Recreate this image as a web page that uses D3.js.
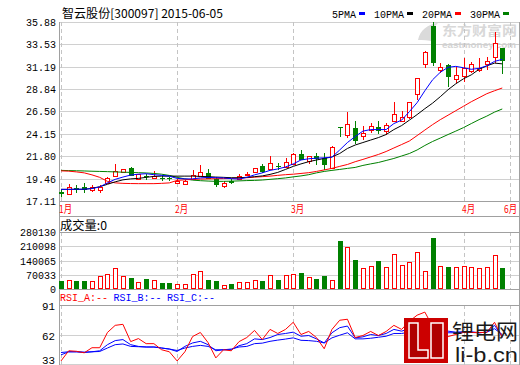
<!DOCTYPE html>
<html><head><meta charset="utf-8">
<script src="https://cdn.jsdelivr.net/npm/d3@7"></script>
<style>html,body{margin:0;padding:0;background:#fff;}svg{display:block;}</style>
</head><body><svg id="c" width="520" height="365"></svg>
<script>
const title = "智云股份[300097] 2015-06-05";
const openP  = [18.05,17.85,18.48,18.62,18.30,18.22,18.95,19.70,20.20,20.55,19.45,19.75,19.50,19.55,19.52,18.95,18.90,19.40,19.75,20.07,19.38,18.68,19.18,19.38,19.85,20.10,20.77,20.42,20.82,20.70,20.94,22.09,21.30,21.88,21.64,20.54,24.90,24.00,24.78,23.90,24.60,24.88,24.45,25.47,25.47,25.93,28.36,31.46,35.50,30.87,31.39,29.90,30.24,30.79,30.87,31.46,32.19,33.13];
const highP  = [18.35,18.85,18.80,18.95,18.75,18.75,19.60,20.95,20.50,20.70,19.95,19.95,20.30,19.70,19.65,19.40,19.35,20.32,20.84,20.42,19.66,19.20,19.40,19.90,20.10,20.60,20.95,21.81,21.05,21.57,22.15,22.44,21.85,22.15,22.15,22.85,24.92,26.45,25.47,24.95,25.30,25.45,25.30,27.49,26.58,27.50,30.05,32.85,35.88,31.63,31.50,31.21,32.09,31.70,32.09,32.26,34.87,33.20];
const lowP   = [17.65,17.70,18.10,18.10,18.10,17.95,18.85,19.60,20.10,19.80,19.40,19.45,19.45,19.30,19.35,18.85,18.80,19.35,19.70,19.50,18.68,18.51,18.95,19.30,19.75,20.05,20.20,20.35,20.50,20.60,20.90,21.50,21.02,21.00,20.42,20.50,23.90,23.75,23.21,23.55,24.20,24.20,24.05,25.35,25.40,25.75,27.66,31.04,31.32,30.52,29.12,29.48,29.64,30.52,30.60,30.87,31.57,30.52];
const closeP = [17.98,18.60,18.42,18.33,18.62,18.55,19.50,20.30,20.42,19.85,19.90,19.70,19.75,19.48,19.48,19.25,19.25,19.85,20.20,19.55,18.85,19.03,19.14,19.72,19.95,20.55,20.24,21.05,20.77,21.22,22.09,21.54,21.81,21.66,20.94,22.79,24.86,25.23,23.55,24.26,25.00,24.60,25.12,26.24,25.93,27.45,30.00,32.78,31.65,31.11,30.17,30.35,31.04,31.46,31.04,31.81,33.65,31.91];
const volume = [37000,45000,37000,37000,41000,65000,75000,102000,65000,55000,36000,50000,45000,28000,31000,26000,26000,73000,88000,45000,37000,19000,26000,36000,36000,44000,41000,68000,45000,68000,73000,79000,58000,50000,63000,44000,235000,204000,143000,102000,112000,138000,107000,172000,117000,131000,180000,88000,250000,112000,107000,107000,112000,107000,102000,107000,167000,104000];
const ma5  = [18.33,18.33,18.35,18.35,18.41,18.59,19.01,19.38,19.62,19.83,19.92,19.97,19.87,19.80,19.71,19.48,19.43,19.43,19.53,19.59,19.55,19.53,19.45,19.41,19.59,19.85,20.06,20.32,20.47,20.68,21.00,21.41,21.54,21.60,21.64,21.71,22.46,23.24,23.87,24.44,24.60,24.60,24.60,25.23,25.59,26.48,27.42,28.67,29.82,30.61,31.13,31.23,31.08,30.92,31.02,31.28,31.75,31.96];
const ma10 = [18.33,18.33,18.33,18.33,18.44,18.61,18.86,19.12,19.33,19.43,19.48,19.59,19.69,19.72,19.72,19.72,19.72,19.72,19.69,19.66,19.62,19.59,19.55,19.55,19.59,19.66,19.74,19.90,20.11,20.42,20.74,21.00,21.23,21.41,21.57,21.73,22.09,22.62,22.98,23.24,23.50,23.76,24.08,24.60,25.02,25.59,26.17,26.79,27.37,28.05,28.78,29.40,29.93,30.34,30.92,31.28,31.57,31.49];
const ma20 = [20.27,20.24,20.16,20.06,19.85,19.59,19.17,19.01,18.96,18.94,18.93,18.93,18.93,18.96,19.01,19.27,19.33,19.38,19.41,19.43,19.45,19.46,19.48,19.51,19.55,19.61,19.66,19.72,19.80,19.87,19.92,20.00,20.08,20.21,20.37,20.53,20.74,20.94,21.23,21.47,21.73,21.99,22.30,22.67,23.03,23.40,23.97,24.55,25.12,25.64,26.11,26.58,27.05,27.52,27.94,28.36,28.67,28.96];
const ma30 = [20.32,20.30,20.28,20.26,20.23,20.21,20.19,20.16,20.13,20.11,20.08,20.05,20.00,19.92,19.79,19.59,19.43,19.30,19.24,19.20,19.17,19.17,19.19,19.22,19.25,19.27,19.31,19.38,19.45,19.53,19.64,19.74,19.87,20.06,20.21,20.32,20.42,20.53,20.63,20.84,21.00,21.15,21.36,21.57,21.83,22.09,22.46,22.93,23.35,23.71,24.08,24.44,24.81,25.23,25.64,26.01,26.43,26.76];
const rsiA = [36,46,45.5,44,49,49,64,71,72,55,58,53,53,47,45,36,45,60,64,54,39,47,46,55,59,66,57,67,63,67,74,62,65,59,48,67,76,77,59,61,65,61,65,71,67,75,81,84,70,67,60,62,64,64,64,64,74,59];
const rsiB = [42,45,45,44.7,45,46,52,56,57,52,50.3,49.7,49.7,48.7,47.7,45.3,50.3,53.7,55.3,52,46,47,47,51,53,57.7,57,59,62,63,64.3,60.3,61,57.7,53.7,63.7,68.7,70.3,58.7,59.7,62,61,63,67,65.3,67.7,70.3,73.7,68.7,67,65.3,64.3,64.7,64.7,63.7,64.3,71,60.3];
const rsiC = [44.3,45,45,44.3,45,45.3,48.7,52,52.7,50.3,50,49.7,49.7,48.7,47.7,46.3,48.7,50.3,51.3,50.3,47,47,47.7,49.7,50.3,53,53.5,55.3,56.5,57.5,58.7,56.3,56,55.3,53.7,58.7,61.3,63.7,57.7,57.7,58.3,59.3,60.3,63,63,64.3,66,67.7,65.3,64.7,63.7,63.7,64.3,64,63.7,64.3,67.7,62];
const priceTicks = [35.88,33.53,31.19,28.84,26.50,24.15,21.80,19.46,17.11];
const volTicks = [0,70033,140065,210098,280130];
const rsiTicks = [33,62,91];
const monthLabels = ["1月","2月","3月","4月","6月"];
const monthIndex = [0,15,30,52,58];
const legendLabels = ["5PMA","10PMA","20PMA","30PMA"];
const legendColors = ["#0000ff","#000000","#ff0000","#008000"];
const volHeader = "成交量:0";
const rsiHeaders = ["RSI_A:--","RSI_B:--","RSI_C:--"];
const rsiColors = ["#ff0000","#0000ff","#0000ff"];

const RED="#ff0000", GREEN="#008000", GRID="#d0d0d0", FRAME="#a0a0a0", VGRID="#c4c4c4";
const MONO="'Liberation Mono','DejaVu Sans Mono',monospace";
const CJK="'Noto Sans CJK SC','Noto Sans',sans-serif";
const svg = d3.select("#c");
const L=59, R=519;

const x = d3.scaleLinear().domain([0,58]).range([61,510]);
const yP = d3.scaleLinear().domain([17.11,35.88]).range([201,22]);
const yV = d3.scaleLinear().domain([0,280130]).range([289,232]);
const yR = d3.scaleLinear().domain([33,91]).range([364,305]);
const px = v => Math.round(v)+0.5;

function txt(g, s, xx, yy, opt){
  const t = g.append("text").attr("x",xx).attr("y",yy).text(s)
    .attr("font-family",opt.font||MONO).attr("font-size",opt.size||11)
    .attr("fill",opt.fill||"#000");
  if(opt.anchor) t.attr("text-anchor",opt.anchor);
  if(opt.len) t.attr("textLength",opt.len).attr("lengthAdjust","spacingAndGlyphs");
  if(opt.weight) t.attr("font-weight",opt.weight);
  return t;
}

// watermark
const wm = svg.append("g");
wm.append("path").attr("d","M418,40 C420,30 428,24 438,23 C432,28 430,34 434,42 C428,40 423,40 418,40 Z").attr("fill","#dadada");
txt(wm,"东方财富网",442,35,{font:CJK,size:13,fill:"#d8d8d8",weight:"bold",len:75});
txt(wm,"eastmoney.com",442,48,{font:"'Liberation Sans',Arial,sans-serif",size:9,fill:"#d4d4d4",weight:"bold",len:74});

// gridlines
const grid = svg.append("g");
priceTicks.forEach(t=>grid.append("line").attr("x1",L).attr("x2",R).attr("y1",px(yP(t))).attr("y2",px(yP(t))).attr("stroke",GRID));
volTicks.forEach(t=>grid.append("line").attr("x1",L).attr("x2",R).attr("y1",px(yV(t))).attr("y2",px(yV(t))).attr("stroke",GRID));
rsiTicks.forEach(t=>grid.append("line").attr("x1",L).attr("x2",R).attr("y1",px(yR(t))).attr("y2",px(yR(t))).attr("stroke",GRID));
monthIndex.forEach(i=>{
  const xx = px(x(i));
  [[22,201],[232,289],[305,365]].forEach(([a,b])=>grid.append("line").attr("x1",xx).attr("x2",xx).attr("y1",a).attr("y2",b)
    .attr("stroke",VGRID).attr("stroke-dasharray","4,3"));
});

// frame
const fr = svg.append("g").attr("stroke",FRAME).attr("shape-rendering","crispEdges");
fr.append("line").attr("x1",L+0.5).attr("x2",L+0.5).attr("y1",22).attr("y2",365);
fr.append("line").attr("x1",R+0.5).attr("x2",R+0.5).attr("y1",22).attr("y2",365);
[201,216,232,289,305].forEach(yy=>fr.append("line").attr("x1",L).attr("x2",R+1).attr("y1",yy+0.5).attr("y2",yy+0.5));

// axis labels
const ax = svg.append("g");
priceTicks.forEach(t=>{ const s=t.toFixed(2); txt(ax,s,56,Math.round(yP(t))+4,{anchor:"end",len:s.length*6}); });
volTicks.forEach(t=>{ const s=String(t); txt(ax,s,56,Math.round(yV(t))+4,{anchor:"end",len:s.length*6}); });
rsiTicks.forEach(t=>{ const s=String(t); const yy = t===33? 363.5: Math.round(yR(t))+5; txt(ax,s,55,yy,{anchor:"end",len:s.length*6.5}); });
monthLabels.forEach((m,k)=>txt(ax,m,Math.min(Math.round(x(monthIndex[k]))-2,504),213,{font:CJK,size:11,fill:RED,len:13}));

// title + legend
txt(svg,title,62,18,{font:CJK,size:12,len:161});
let lx = 332;
legendLabels.forEach((s,k)=>{
  txt(svg,s,lx,18,{len:s.length*6});
  lx += s.length*6+3;
  svg.append("rect").attr("x",lx).attr("y",12).attr("width",6).attr("height",3).attr("fill",legendColors[k]);
  lx += 6+9;
});
txt(svg,volHeader,60,230,{font:CJK,size:12,len:47});
let rx=60;
rsiHeaders.forEach((s,k)=>{ txt(svg,s,rx,301,{fill:rsiColors[k],len:48}); rx+=53.5; });

// candles
const cg = svg.append("g").attr("shape-rendering","crispEdges");
closeP.forEach((c,i)=>{
  const o=openP[i], up = c>=o, col = up?RED:GREEN;
  const cx = px(x(i));
  const top = Math.round(yP(Math.max(o,c))), bot = Math.round(yP(Math.min(o,c)));
  const hy = Math.round(yP(highP[i])), ly = Math.round(yP(lowP[i]));
  if(bot-top < 1){
    cg.append("line").attr("x1",cx).attr("x2",cx).attr("y1",hy).attr("y2",ly+1).attr("stroke",col);
    cg.append("rect").attr("x",cx-2.5).attr("y",top).attr("width",5).attr("height",1).attr("fill",col);
  } else if(up){
    if(hy<top) cg.append("line").attr("x1",cx).attr("x2",cx).attr("y1",hy).attr("y2",top).attr("stroke",col);
    if(ly>bot) cg.append("line").attr("x1",cx).attr("x2",cx).attr("y1",bot).attr("y2",ly).attr("stroke",col);
    cg.append("rect").attr("x",cx-2).attr("y",top+0.5).attr("width",4).attr("height",bot-top).attr("fill","#fff").attr("stroke",col);
  } else {
    cg.append("line").attr("x1",cx).attr("x2",cx).attr("y1",hy).attr("y2",ly+1).attr("stroke",col);
    cg.append("rect").attr("x",cx-2.5).attr("y",top).attr("width",5).attr("height",bot-top+1).attr("fill",col);
  }
});

// moving averages
const line = d3.line().x((d,i)=>x(i)).y(d=>yP(d));
[[ma30,"#008000"],[ma20,"#ff0000"],[ma10,"#000000"],[ma5,"#0000ff"]].forEach(([arr,col])=>{
  svg.append("path").attr("d",line(arr)).attr("fill","none").attr("stroke",col).attr("stroke-width",1);
});

// volume
const vg = svg.append("g").attr("shape-rendering","crispEdges");
volume.forEach((v,i)=>{
  const up = closeP[i]>=openP[i];
  const cx = px(x(i));
  const top = Math.round(yV(v)), base = Math.round(yV(0));
  if(up) vg.append("rect").attr("x",cx-2).attr("y",top+0.5).attr("width",4).attr("height",base-top-1).attr("fill","#fff").attr("stroke",RED);
  else vg.append("rect").attr("x",cx-2.5).attr("y",top).attr("width",5).attr("height",base-top).attr("fill",GREEN);
});

// RSI
const rl = d3.line().x((d,i)=>x(i)).y(d=>yR(d));
[[rsiC,"#0000ff"],[rsiB,"#0000ff"],[rsiA,"#ff0000"]].forEach(([arr,col])=>{
  svg.append("path").attr("d",rl(arr)).attr("fill","none").attr("stroke",col).attr("stroke-width",1);
});

// li-b.cn logo
const lg = svg.append("g");
lg.append("rect").attr("x",404).attr("y",318).attr("width",44).attr("height",45).attr("fill","#cc0000");
lg.append("path").attr("d","M409,323 H418 V350 H428 V358 H409 Z M431,323 H443 V358 H431 Z").attr("fill","#b00000").attr("stroke","#fff").attr("stroke-width",1.5);
txt(lg,"锂电网",452,339,{font:CJK,size:21,fill:"#1a1a1a",len:66});
txt(lg,"li-b.cn",455,362,{font:"'Liberation Sans',Arial,sans-serif",size:21,fill:"#1a1a1a",len:63});
</script></body></html>
